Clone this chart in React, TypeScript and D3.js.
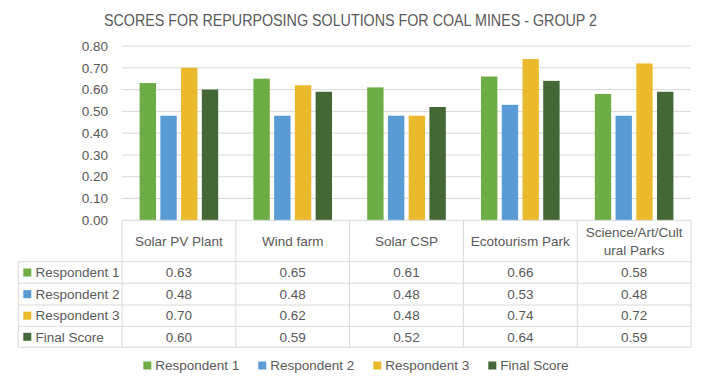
import React from "react";
import * as d3 from "d3";

const categories = ["Solar PV Plant", "Wind farm", "Solar CSP", "Ecotourism Park", "Science/Art/Cultural Parks"];
const categoryLines = [["Solar PV Plant"], ["Wind farm"], ["Solar CSP"], ["Ecotourism Park"], ["Science/Art/Cult", "ural Parks"]];
const seriesNames = ["Respondent 1", "Respondent 2", "Respondent 3", "Final Score"];
const respondent1 = [0.63, 0.65, 0.61, 0.66, 0.58];
const respondent2 = [0.48, 0.48, 0.48, 0.53, 0.48];
const respondent3 = [0.70, 0.62, 0.48, 0.74, 0.72];
const finalScore = [0.60, 0.59, 0.52, 0.64, 0.59];
const yTicks = [0, 0.1, 0.2, 0.3, 0.4, 0.5, 0.6, 0.7, 0.8];
const colors = ["#6EAC46", "#5B9BD5", "#EABA2C", "#436835"];

const W = 703, H = 385;
const FONT = "'Liberation Sans', Arial, sans-serif";
const TXT = "#595959";

export default function App() {
  const series = [respondent1, respondent2, respondent3, finalScore];
  const plotLeft = 122, plotRight = 691, plotTop = 46, plotBottom = 220.3;
  const x0 = d3.scaleBand<string>().domain(categories).range([plotLeft, plotRight]).paddingInner(0).paddingOuter(0);
  const y = d3.scaleLinear().domain([0, 0.8]).range([plotBottom, plotTop]);
  const groupPad = 17.6;
  const x1 = d3.scaleBand<string>().domain(seriesNames).range([0, x0.bandwidth() - 2 * groupPad]).paddingInner(0.21).paddingOuter(0);

  const headerBottom = 261.7;
  const rowLines = [261.7, 283.3, 305, 326.3, 347.3];
  const tableLeft = 18.3;
  const fs = 13.5;
  const gridColor = "#D9D9D9";

  return (
    <div style={{ margin: -8 }}>
      <svg width={W} height={H} style={{ display: "block", fontFamily: FONT }}>
        <rect x={0.5} y={0.5} width={W - 1.5} height={H - 1.5} fill="#fff" stroke="#D9D9D9" />
        <text x={104} y={26} fontSize={16.5} fill={TXT} textLength={493} lengthAdjust="spacingAndGlyphs">
          SCORES FOR REPURPOSING SOLUTIONS FOR COAL MINES - GROUP 2
        </text>
        {yTicks.map((t) => (
          <g key={t}>
            {t > 0 && <line x1={plotLeft} x2={plotRight} y1={y(t)} y2={y(t)} stroke={gridColor} />}
            <text x={108} y={y(t)} dy="0.35em" textAnchor="end" fontSize={fs} fill={TXT}>{t.toFixed(2)}</text>
          </g>
        ))}
        {categories.map((c, ci) => (
          <g key={c}>
            {seriesNames.map((s, si) => {
              const v = series[si][ci];
              const bx = (x0(c) as number) + groupPad + (x1(s) as number);
              return <rect key={s} x={bx} y={y(v)} width={x1.bandwidth()} height={plotBottom - y(v)} fill={colors[si]} />;
            })}
          </g>
        ))}
        <line x1={plotLeft} x2={plotRight} y1={plotBottom} y2={plotBottom} stroke={gridColor} />
        {rowLines.map((ry, i) => (
          <line key={i} x1={tableLeft} x2={plotRight} y1={ry} y2={ry} stroke={gridColor} />
        ))}
        <line x1={tableLeft} x2={tableLeft} y1={headerBottom} y2={347.3} stroke={gridColor} />
        {[...categories.map((c) => x0(c) as number), plotRight].map((vx, i) => (
          <line key={i} x1={vx} x2={vx} y1={plotBottom} y2={347.3} stroke={gridColor} />
        ))}
        {categories.map((c, ci) => {
          const cx = (x0(c) as number) + x0.bandwidth() / 2;
          const lines = categoryLines[ci];
          return (
            <g key={c}>
              {lines.length === 1 ? (
                <text x={cx} y={241} dy="0.35em" textAnchor="middle" fontSize={fs} fill={TXT}>{lines[0]}</text>
              ) : (
                lines.map((l, li) => (
                  <text key={li} x={cx} y={232 + li * 18.5} dy="0.35em" textAnchor="middle" fontSize={fs} fill={TXT}>{l}</text>
                ))
              )}
              {series.map((vals, si) => (
                <text key={si} x={cx} y={(rowLines[si] + rowLines[si + 1]) / 2} dy="0.35em" textAnchor="middle" fontSize={fs} fill={TXT}>
                  {vals[ci].toFixed(2)}
                </text>
              ))}
            </g>
          );
        })}
        {seriesNames.map((s, si) => {
          const cy = (rowLines[si] + rowLines[si + 1]) / 2;
          return (
            <g key={s}>
              <rect x={23.3} y={cy - 4} width={8} height={8} fill={colors[si]} />
              <text x={35.5} y={cy} dy="0.35em" fontSize={fs} fill={TXT}>{s}</text>
            </g>
          );
        })}
        {seriesNames.map((s, si) => {
          const lx = [143.3, 258.3, 373.3, 488.3][si];
          return (
            <g key={s}>
              <rect x={lx} y={361.5} width={8} height={8} fill={colors[si]} />
              <text x={lx + 12} y={365.5} dy="0.35em" fontSize={fs} fill={TXT}>{s}</text>
            </g>
          );
        })}
      </svg>
    </div>
  );
}
